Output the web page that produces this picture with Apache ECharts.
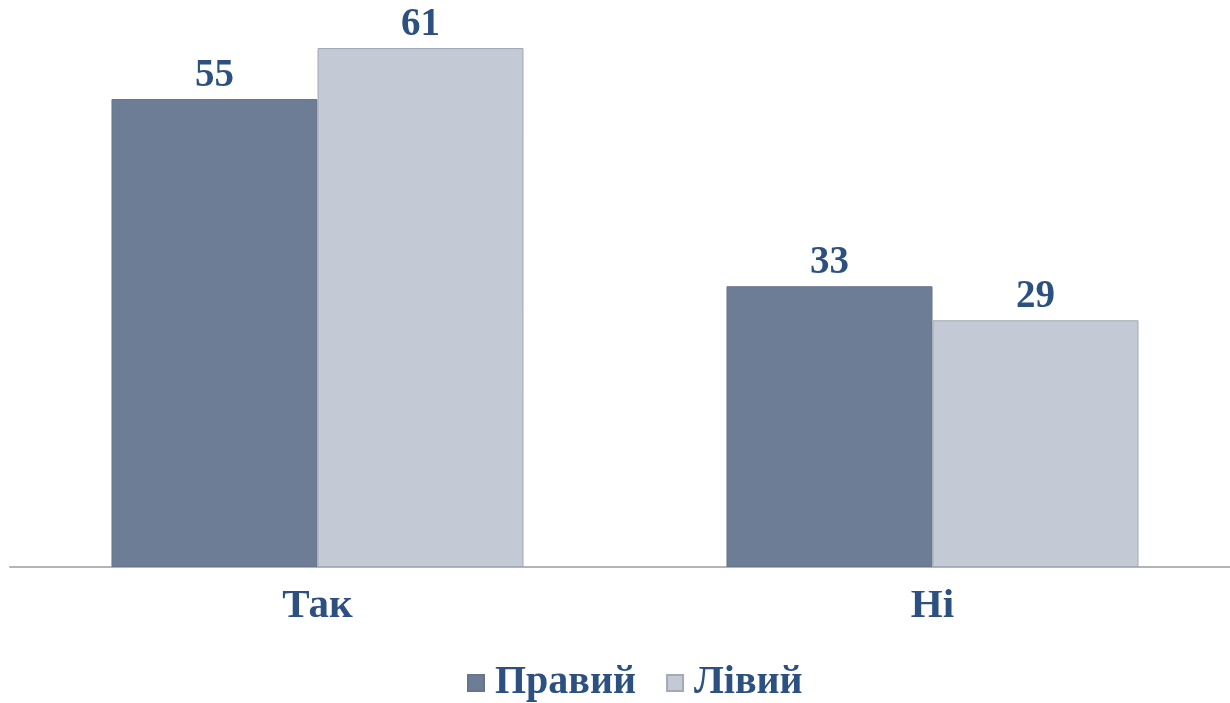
<!DOCTYPE html>
<html>
<head>
<meta charset="utf-8">
<script src="https://cdn.jsdelivr.net/npm/echarts@6/dist/echarts.min.js"></script>
<style>
  html, body { margin: 0; padding: 0; background: #fff; }
  #chart { width: 1230px; height: 703px; }
</style>
</head>
<body>
<div id="chart"></div>
<script>
  // дані
  const categories = ['Так', 'Ні'];
  const seriesNames = ['Правий', 'Лівий'];
  const rightValues = [55, 33];
  const leftValues = [61, 29];

  const textColor = '#2c5080';
  const darkBar = '#6e7d96';
  const lightBar = '#c3c9d5';
  const fontFamily = '"Liberation Serif", "DejaVu Serif", serif';

  const chart = echarts.init(document.getElementById('chart'));

  chart.setOption({
    animation: false,
    grid: { left: 10, width: 1230, top: 14, bottom: 136, outerBoundsMode: 'none' },
    legend: {
      data: seriesNames,
      left: 462,
      bottom: -5,
      icon: 'rect',
      itemWidth: 16,
      itemHeight: 16,
      itemGap: 30,
      textStyle: {
        color: textColor,
        fontFamily: fontFamily,
        fontWeight: 'bold',
        fontSize: 40,
        padding: [0, 0, 0, 6]
      }
    },
    xAxis: {
      type: 'category',
      data: categories,
      axisTick: { show: false },
      axisLine: { lineStyle: { color: '#b4b4b4', width: 2 } },
      axisLabel: {
        margin: 19,
        color: textColor,
        fontFamily: fontFamily,
        fontWeight: 'bold',
        fontSize: 41
      }
    },
    yAxis: {
      type: 'value',
      min: 0,
      max: 65,
      show: false,
      splitLine: { show: false }
    },
    series: [
      {
        name: seriesNames[0],
        type: 'bar',
        data: rightValues,
        barGap: '0%',
        barCategoryGap: '33%',
        itemStyle: { color: darkBar, borderColor: '#66748c', borderWidth: 1 },
        label: {
          show: true,
          position: 'top',
          distance: 4,
          color: textColor,
          fontFamily: fontFamily,
          fontWeight: 'bold',
          fontSize: 39
        }
      },
      {
        name: seriesNames[1],
        type: 'bar',
        data: leftValues,
        itemStyle: { color: lightBar, borderColor: '#a4aab4', borderWidth: 1 },
        label: {
          show: true,
          position: 'top',
          distance: 4,
          color: textColor,
          fontFamily: fontFamily,
          fontWeight: 'bold',
          fontSize: 39
        }
      }
    ]
  });
</script>
</body>
</html>
